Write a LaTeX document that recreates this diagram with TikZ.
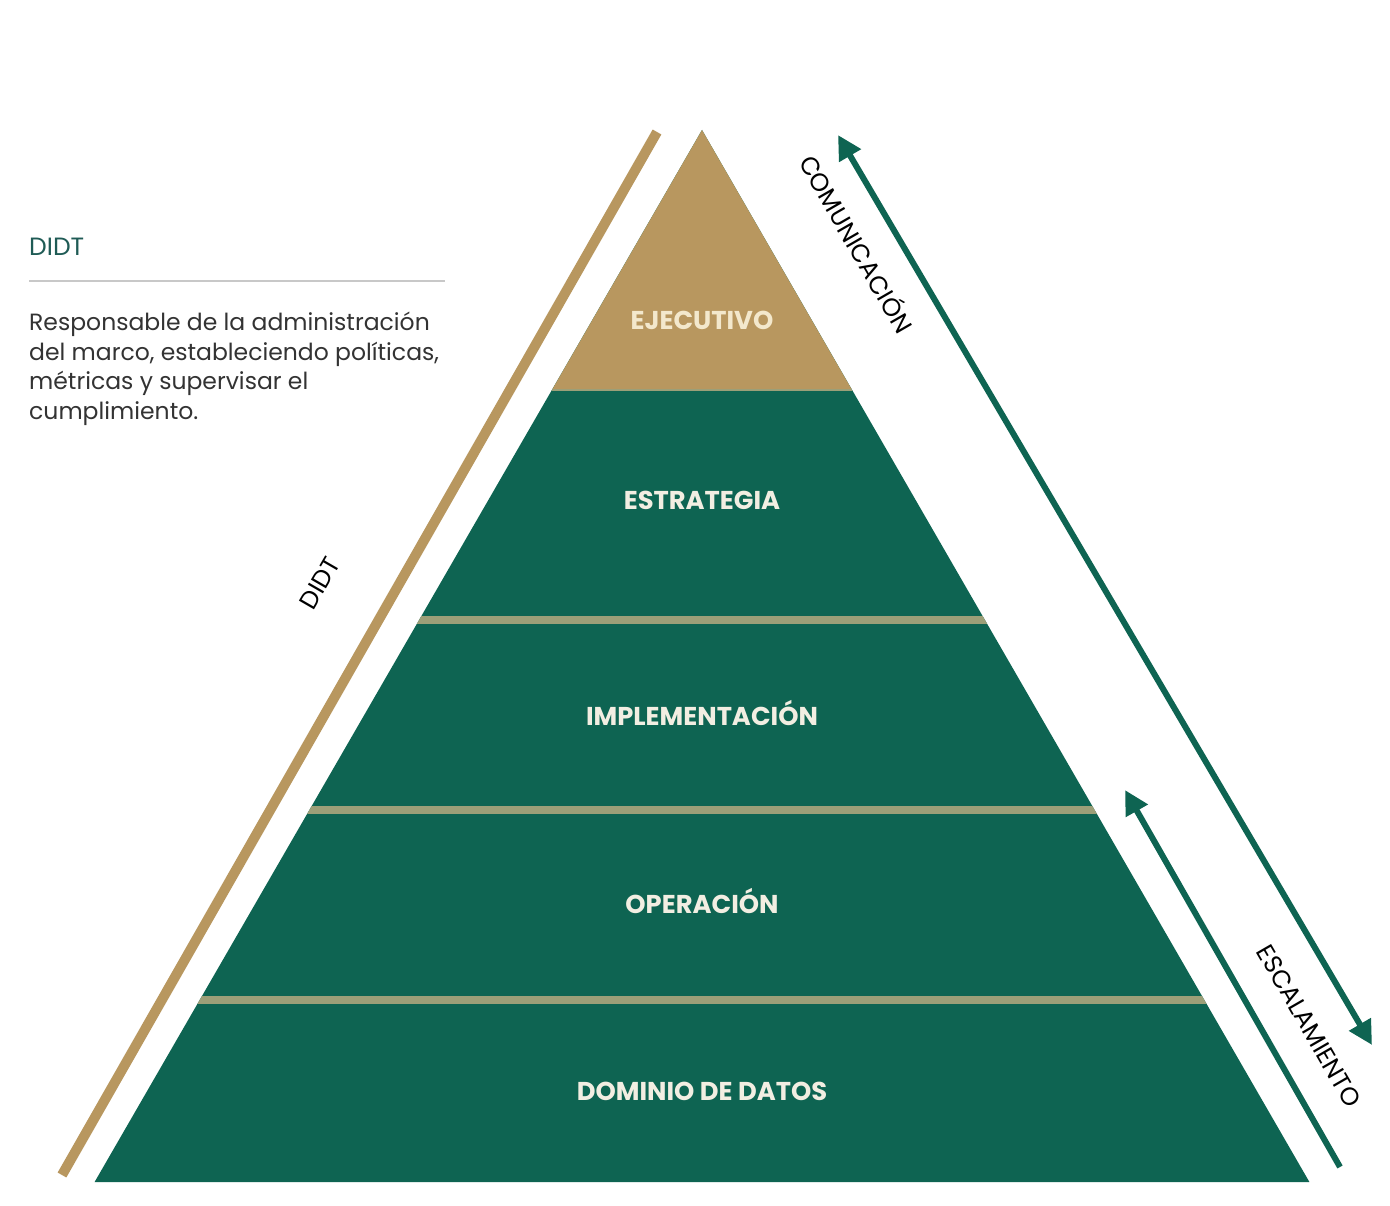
\documentclass[tikz,border=0pt]{standalone}
\usepackage{fontspec}
\setmainfont{Poppins}
\usetikzlibrary{arrows.meta}
\definecolor{pgreen}{HTML}{0E6452}
\definecolor{pgold}{HTML}{B8975F}
\definecolor{psep}{HTML}{9C9F78}
\definecolor{ptitle}{HTML}{1F5B55}
\definecolor{pbody}{HTML}{333333}
\definecolor{prule}{HTML}{C8C8C8}
\definecolor{plabel}{HTML}{F2EEE2}
\definecolor{ptoplabel}{HTML}{F3E8CC}
\begin{document}
\begin{tikzpicture}[x=1pt,y=-1pt,
  level/.style={font=\fontsize{25.8}{30}\selectfont\bfseries, text=plabel, inner sep=0pt},
  sidelabel/.style={font=\fontsize{25}{28}\selectfont, text=black, inner sep=0pt},
  sepline/.style={psep, line width=8pt},
  flow/.style={pgreen, line width=6pt, -{Triangle[length=24pt,width=24pt]}},
  flowboth/.style={pgreen, line width=6pt, {Triangle[length=24pt,width=24pt]}-{Triangle[length=24pt,width=24pt]}}]
  \useasboundingbox (0,0) rectangle (1390,1206);
  \fill[white] (0,0) rectangle (1390,1206);

  % pyramid corners
  \coordinate (apex) at (702,130);
  \coordinate (bl) at (94.6,1182);
  \coordinate (br) at (1309.4,1182);

  % green body and gold top
  \fill[pgreen] (apex) -- (bl) -- (br) -- cycle;
  \fill[pgold] (apex) -- (552.5,389) -- (851.5,389) -- cycle;

  % band separators, kept inside the pyramid
  \begin{scope}
    \clip (apex) -- (bl) -- (br) -- cycle;
    \draw[psep, line width=2.5pt] (540,390) -- (865,390);
    \draw[sepline] (400,620) -- (1000,620);
    \draw[sepline] (290,810) -- (1110,810);
    \draw[sepline] (180,1000) -- (1220,1000);
  \end{scope}

  % level labels
  \node[level, text=ptoplabel] (ejec) at (702,320) {EJECUTIVO};
  \node[level] (estr) at (702,500) {ESTRATEGIA};
  \node[level] (impl) at (702,713) {IMPLEMENTACIÓN};
  \node[level] (oper) at (702,901) {OPERACIÓN};
  \node[level] (dom)  at (702,1091) {DOMINIO DE DATOS};

  % left gold bar with its label
  \coordinate (gl1) at (62,1175);
  \coordinate (gl2) at (657,132);
  \draw[pgold, line width=10pt] (gl1) -- (gl2);
  \node[sidelabel, rotate=60] (didtside) at (320,583) {DIDT};

  % right arrows
  \coordinate (ctop) at (838,135);
  \coordinate (cbot) at (1372,1045);
  \draw[flowboth] (ctop) -- (cbot);
  \coordinate (etail) at (1340,1167);
  \coordinate (etop) at (1125,790);
  \draw[flow] (etail) -- (etop);
  \node[sidelabel, rotate=-60] (comu) at (858,243) {COMUNICACIÓN};
  \node[sidelabel, rotate=-60] (esca) at (1309,1026) {ESCALAMIENTO};

  % description block
  \node[anchor=base west, inner sep=0pt, text=ptitle, font=\fontsize{25}{28}\selectfont] (didt) at (29,256) {DIDT};
  \coordinate (r1) at (29,281);
  \coordinate (r2) at (445,281);
  \draw[prule, line width=1.5pt] (r1) -- (r2);
  % base anchor of a multi-line node sits on its last line
  \node[anchor=base west, inner sep=0pt, text=pbody, align=left,
        font=\fontsize{23.5}{29.5}\selectfont] (desc) at (29,419)
    {Responsable de la administración\\del marco, estableciendo políticas,\\métricas y supervisar el\\cumplimiento.};
\end{tikzpicture}
\end{document}
